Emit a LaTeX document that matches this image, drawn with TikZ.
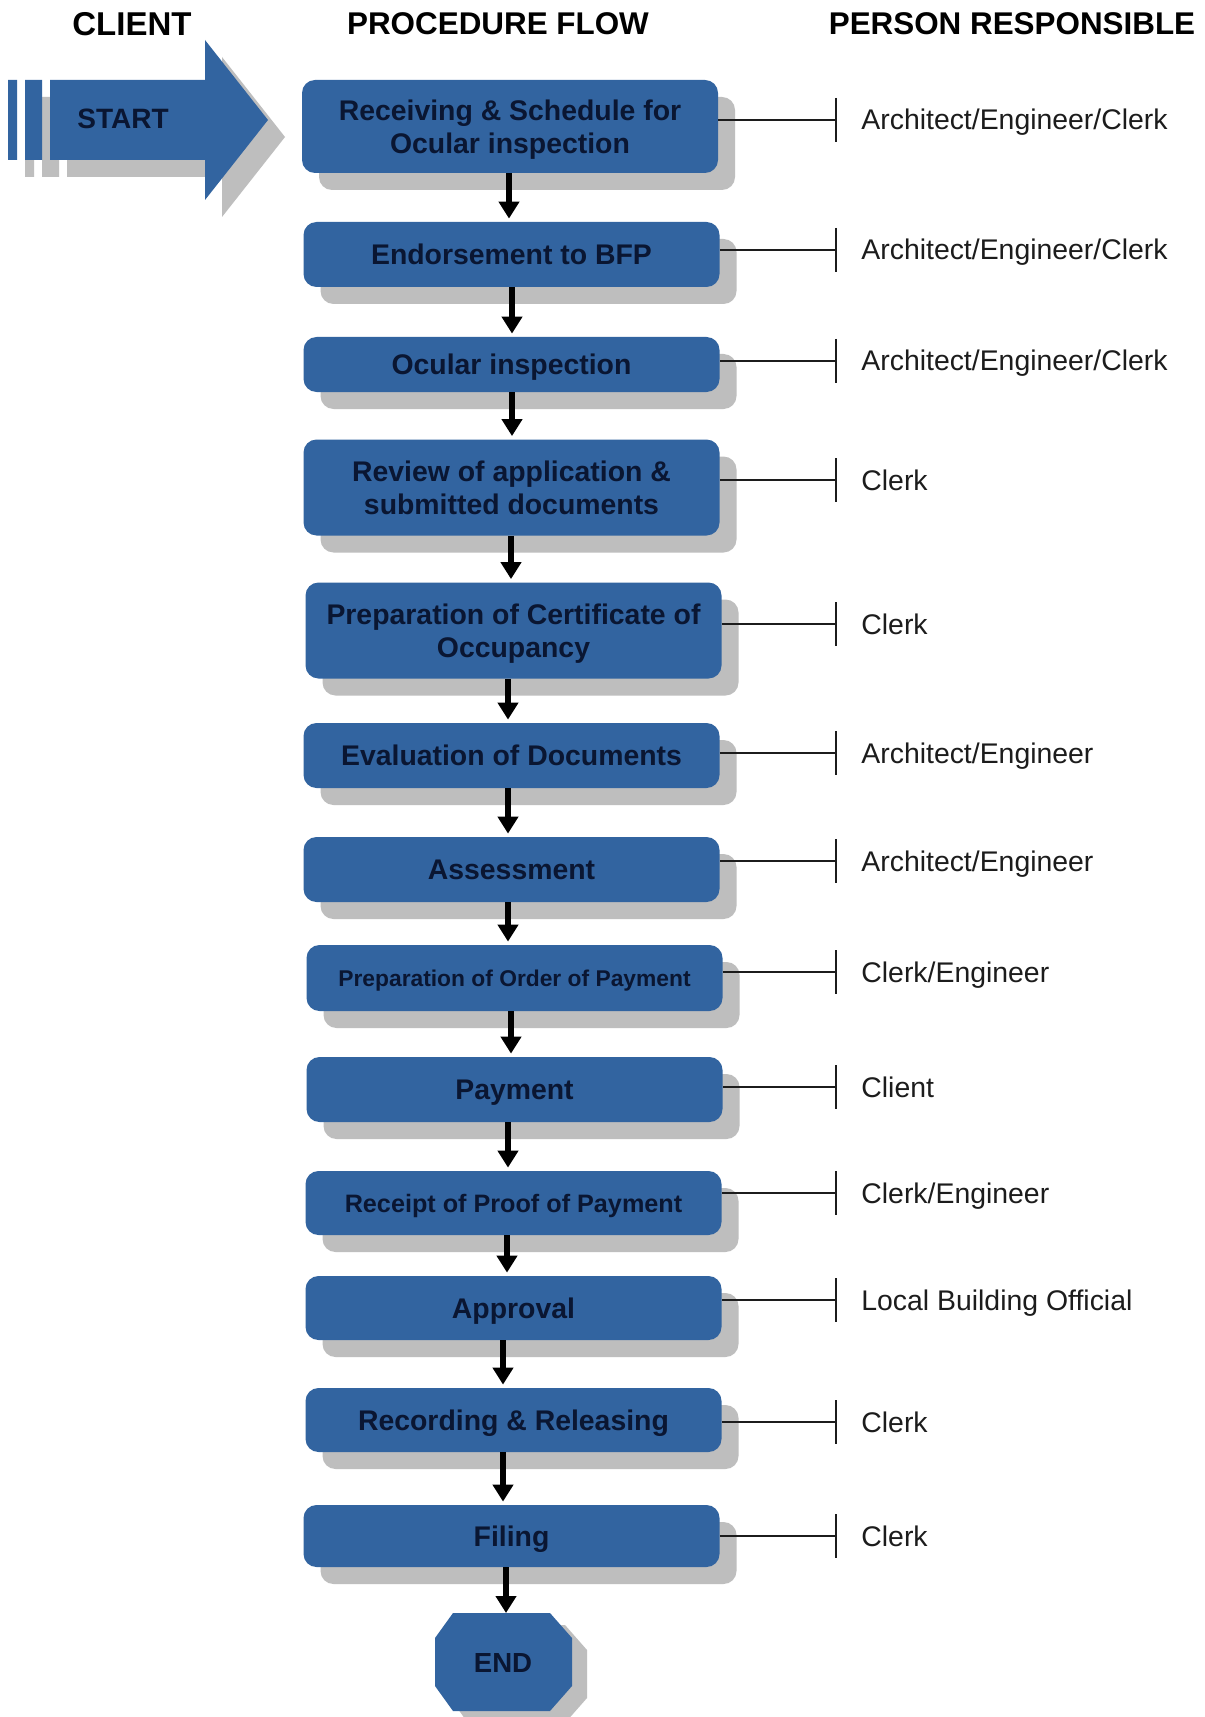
\documentclass[tikz,border=0pt]{standalone}
\usepackage{fontspec}
\setmainfont{Liberation Sans}
\usetikzlibrary{arrows.meta,shadows}

\definecolor{stepblue}{RGB}{50,100,160}
\definecolor{shadowgray}{RGB}{190,190,190}
\definecolor{stepink}{RGB}{10,22,50}
\definecolor{labelink}{RGB}{28,28,28}

% outline of the START arrow (two stripes plus the arrow body)
\newcommand\startoutline{(8,80) rectangle (17,160) (25,80) rectangle (42,160)
  (50,80) -- (205,80) -- (205,40) -- (268,120) -- (205,200) -- (205,160) -- (50,160) -- cycle}
% outline of the END octagon
\newcommand\stopoutline{(453,1613) -- (550,1613) -- (572,1638) -- (572,1686)
  -- (550,1711) -- (453,1711) -- (435,1686) -- (435,1638) -- cycle}

\begin{document}
\begin{tikzpicture}[x=0.5pt,y=-0.5pt,
  stepbox/.style={fill=stepblue, rounded corners=6.5pt, minimum width=208pt,
    inner sep=0pt, align=center, text=stepink, text depth=0pt,
    font=\bfseries\fontsize{14.2}{16.5}\selectfont,
    general shadow={fill=shadowgray, shadow xshift=8.5pt, shadow yshift=-8.5pt}},
  header/.style={font=\bfseries\fontsize{15.7}{18}\selectfont, text=black, inner sep=0pt},
  person/.style={font=\fontsize{14.2}{17}\selectfont, text=labelink, inner sep=0pt, anchor=base west},
  flow/.style={line width=3pt, black, -{Triangle[width=10pt,length=8.5pt]}, shorten >=1.5pt},
  leader/.style={line width=1pt, labelink}
]
\fill[white] (0,0) rectangle (1204,1717);
\useasboundingbox (0,0) rectangle (1204,1717);

% column headings
\node[header, font=\bfseries\fontsize{16.5}{18}\selectfont] (hclient) at (132,24) {CLIENT};
\node[header] (hflow) at (498,24) {PROCEDURE FLOW};
\node[header] (hperson) at (1012,24) {PERSON RESPONSIBLE};

% START arrow with its shadow
\fill[shadowgray, shift={(17,17)}] \startoutline;
\fill[stepblue] \startoutline;
\node[font=\bfseries\fontsize{14}{16}\selectfont, text=stepink] (start) at (123,119) {START};

% procedure steps
\node[stepbox, minimum height=46.5pt] (s1) at (510,126.5) {Receiving \& Schedule for\\Ocular inspection};
\node[stepbox, minimum height=32.5pt] (s2) at (511.5,254.5) {Endorsement to BFP};
\node[stepbox, minimum height=27.5pt] (s3) at (511.5,364.5) {Ocular inspection};
\node[stepbox, minimum height=48pt] (s4) at (511.5,487.5) {Review of application \&\\submitted documents};
\node[stepbox, minimum height=48pt] (s5) at (513.5,630.5) {Preparation of Certificate of\\Occupancy};
\node[stepbox, minimum height=32.5pt] (s6) at (511.5,755.5) {Evaluation of Documents};
\node[stepbox, minimum height=32.5pt] (s7) at (511.5,869.5) {Assessment};
\node[stepbox, minimum height=33pt, font=\bfseries\fontsize{11.4}{14}\selectfont] (s8) at (514.5,978) {Preparation of Order of Payment};
\node[stepbox, minimum height=32.5pt] (s9) at (514.5,1089.5) {Payment};
\node[stepbox, minimum height=32pt, font=\bfseries\fontsize{12.6}{15}\selectfont] (s10) at (513.5,1203) {Receipt of Proof of Payment};
\node[stepbox, minimum height=32pt] (s11) at (513.5,1308) {Approval};
\node[stepbox, minimum height=32pt] (s12) at (513.5,1420) {Recording \& Releasing};
\node[stepbox, minimum height=31pt] (s13) at (511.5,1536) {Filing};

% END octagon with its shadow
\fill[shadowgray, shift={(15,12)}] \stopoutline;
\fill[stepblue] \stopoutline;
\node[font=\bfseries\fontsize{13.8}{16}\selectfont, text=stepink] (endstep) at (503,1663) {END};
\coordinate (endtop) at (506,1613);

% flow arrows between the steps
\foreach \a/\b/\d in {1/2/-0.5pt, 2/3/0.25pt, 3/4/0.25pt, 4/5/-0.25pt, 5/6/-2.75pt,
    6/7/-1.75pt, 7/8/-1.75pt, 8/9/-1.75pt, 9/10/-3.25pt, 10/11/-3.25pt,
    11/12/-5.25pt, 12/13/-5.25pt}{
  \coordinate (q\a) at ([xshift=\d]s\a.south);
  \draw[flow] (q\a) -- (q\a |- s\b.north);
}
\coordinate (q13) at (endtop |- s13.south);
\draw[flow, shorten >=0pt] (q13) -- (endtop);

% responsible persons
\foreach \i/\y/\who in {1/120/{Architect/Engineer/Clerk}, 2/250/{Architect/Engineer/Clerk},
    3/361/{Architect/Engineer/Clerk}, 4/480/Clerk, 5/624/Clerk,
    6/753/{Architect/Engineer}, 7/861/{Architect/Engineer}, 8/972/{Clerk/Engineer},
    9/1087/Client, 10/1193/{Clerk/Engineer}, 11/1300/{Local Building Official},
    12/1422/Clerk, 13/1536/Clerk}{
  \coordinate (t\i) at (836,\y);
  \draw[leader] (t\i -| s\i.east) -- (t\i);
  \draw[leader] ([yshift=11pt]t\i) -- ([yshift=-11pt]t\i);
  \node[person] (p\i) at (861,\y+10) {\who};
}
\end{tikzpicture}
\end{document}
